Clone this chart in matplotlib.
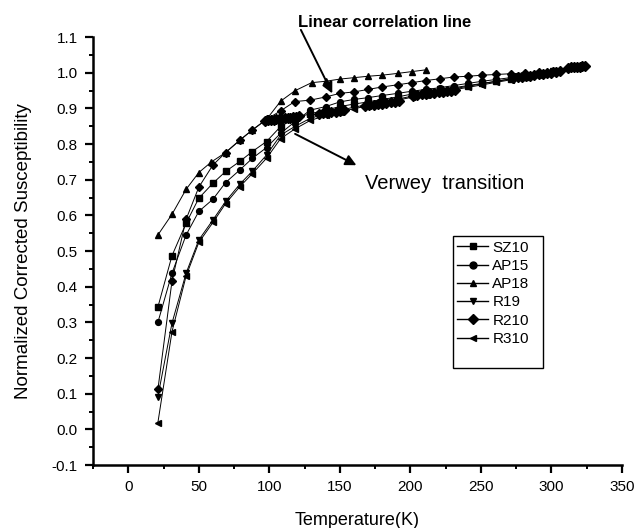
import matplotlib
matplotlib.use("Agg")
import matplotlib.pyplot as plt
from matplotlib.ticker import MultipleLocator
from matplotlib.lines import Line2D
from matplotlib.patches import Rectangle

plt.rcParams['font.family'] = ['Liberation Sans', 'DejaVu Sans']

# ---- data ----
T_low = [21, 31, 41, 50, 60, 69, 79, 88, 98, 108, 118]
T_high = [129, 140, 150, 160, 170, 180, 191, 201, 211, 221, 231, 241, 251, 261, 271, 281, 291, 301]

sz10_low = [0.343, 0.487, 0.578, 0.648, 0.690, 0.723, 0.751, 0.779, 0.807, 0.849, 0.872]
sz10_high = [0.885, 0.895, 0.905, 0.912, 0.918, 0.925, 0.932, 0.940, 0.947, 0.953, 0.958,
             0.964, 0.970, 0.976, 0.982, 0.988, 0.995, 1.003]

ap15_low = [0.300, 0.438, 0.545, 0.611, 0.645, 0.692, 0.727, 0.760, 0.790, 0.830, 0.862]
ap15_high = [0.895, 0.905, 0.918, 0.925, 0.930, 0.936, 0.942, 0.948, 0.953, 0.958, 0.964,
             0.970, 0.976, 0.981, 0.986, 0.992, 0.998, 1.005]

ap18_T = [21, 31, 41, 50, 59, 69, 79, 88, 98, 108, 118, 130, 140, 150, 160, 170, 180, 191, 201, 211]
ap18_v = [0.545, 0.603, 0.673, 0.720, 0.750, 0.776, 0.811, 0.839, 0.869, 0.920, 0.949, 0.972,
          0.976, 0.982, 0.986, 0.990, 0.993, 0.998, 1.003, 1.008]

r19_low = [0.092, 0.298, 0.438, 0.531, 0.587, 0.639, 0.687, 0.724, 0.769, 0.825, 0.849]
r19_high = [0.872, 0.885, 0.895, 0.903, 0.911, 0.918, 0.926, 0.934, 0.941, 0.948, 0.955,
            0.962, 0.969, 0.976, 0.983, 0.990, 0.997, 1.004]

r210_low = [0.112, 0.416, 0.589, 0.679, 0.741, 0.776, 0.810, 0.840, 0.869, 0.893, 0.919]
r210_high = [0.923, 0.932, 0.942, 0.946, 0.953, 0.960, 0.966, 0.972, 0.978, 0.983, 0.988,
             0.990, 0.993, 0.995, 0.997, 0.999, 1.001, 1.004]

r310_low = [0.019, 0.274, 0.430, 0.524, 0.580, 0.633, 0.680, 0.717, 0.760, 0.815, 0.842]
r310_high = [0.866, 0.880, 0.890, 0.899, 0.907, 0.915, 0.923, 0.931, 0.938, 0.945, 0.952,
             0.959, 0.966, 0.973, 0.980, 0.987, 0.994, 1.002]

# densely sampled segments (thick blobs in the reference)
dense1_T = [97, 99, 101, 103, 105, 107, 109, 111, 113, 115, 117, 119, 121]
dense1_v = [0.865, 0.866, 0.867, 0.868, 0.869, 0.870, 0.871, 0.872, 0.873, 0.874, 0.875, 0.876, 0.878]
dense2_T = [135, 138, 141, 144, 147, 150, 153]
dense2_v = [0.884, 0.886, 0.887, 0.889, 0.890, 0.892, 0.894]
dense3_T = [168, 171, 174, 177, 180, 183, 186, 189, 192]
dense3_v = [0.906, 0.908, 0.910, 0.912, 0.913, 0.915, 0.917, 0.918, 0.920]
dense4_T = [202, 205, 208, 211, 214, 217, 220, 223, 226, 229, 232]
dense4_v = [0.936, 0.938, 0.939, 0.941, 0.942, 0.944, 0.945, 0.947, 0.948, 0.950, 0.951]
dense5_T = [273, 276, 279, 282, 285, 288, 291, 294, 297, 300, 303, 306]
dense5_v = [0.986, 0.987, 0.989, 0.990, 0.992, 0.994, 0.995, 0.997, 0.999, 1.000, 1.002, 1.004]
dense6_T = [312, 314, 316, 318, 320, 322, 324]
dense6_v = [1.014, 1.015, 1.016, 1.017, 1.017, 1.018, 1.019]

labels = ['SZ10', 'AP15', 'AP18', 'R19', 'R210', 'R310']
markers = ['s', 'o', '^', 'v', 'D', '<']

fig = plt.figure(figsize=(6.38, 5.28), dpi=100)
ax = fig.add_axes([0.1458, 0.1193, 0.829, 0.8106])

series = [
    (T_low + T_high, sz10_low + sz10_high),
    (T_low + T_high, ap15_low + ap15_high),
    (ap18_T, ap18_v),
    (T_low + T_high, r19_low + r19_high),
    (T_low + T_high, r210_low + r210_high),
    (T_low + T_high, r310_low + r310_high),
]
msizes = [4, 4.2, 4.5, 4.5, 4, 4.5]
for (x, y), m, ms in zip(series, markers, msizes):
    ax.plot(x, y, color='black', lw=0.7, marker=m, markersize=ms)

for dT, dv in [(dense1_T, dense1_v), (dense2_T, dense2_v), (dense3_T, dense3_v),
               (dense4_T, dense4_v), (dense5_T, dense5_v), (dense6_T, dense6_v)]:
    ax.plot(dT, dv, color='black', lw=0.7, marker='D', markersize=4.8)

ax.set_xlim(-25, 350)
ax.set_ylim(-0.1, 1.1)
ax.xaxis.set_minor_locator(MultipleLocator(25))
ax.yaxis.set_minor_locator(MultipleLocator(0.05))
ax.set_xticks([0, 50, 100, 150, 200, 250, 300, 350])
ax.set_yticks([-0.1, 0.0, 0.1, 0.2, 0.3, 0.4, 0.5, 0.6, 0.7, 0.8, 0.9, 1.0, 1.1])
ax.set_yticklabels(['-0.1', '0.0', '0.1', '0.2', '0.3', '0.4', '0.5', '0.6', '0.7',
                    '0.8', '0.9', '1.0', '1.1'])
for s in ['top', 'right']:
    ax.spines[s].set_visible(False)
for s in ['left', 'bottom']:
    ax.spines[s].set_linewidth(1.8)
ax.tick_params(which='major', direction='out', length=6, width=1.6, labelsize=11, pad=5)
ax.tick_params(which='minor', direction='out', length=3, width=1.4)
ax.set_xlabel('Temperature(K)', fontsize=13, labelpad=13)
ax.set_ylabel('Normalized Corrected Susceptibility', fontsize=13.5, labelpad=14)

# annotations
ax.annotate('', xy=(145.5, 0.935), xytext=(121.5, 1.127), annotation_clip=False,
            arrowprops=dict(arrowstyle='-|>', lw=1.4, color='black', mutation_scale=16))
ax.text(120, 1.142, 'Linear correlation line', fontsize=12, fontweight='bold',
        ha='left', va='center', clip_on=False)
ax.annotate('', xy=(163.5, 0.737), xytext=(116.5, 0.832),
            arrowprops=dict(arrowstyle='-|>', lw=1.4, color='black', mutation_scale=16))
ax.text(168, 0.69, 'Verwey  transition', fontsize=14.5, ha='left', va='center')

# legend
handles = [Line2D([0], [0], color='black', lw=1.0, marker=m, markersize=5) for m in markers]
ax.add_patch(Rectangle((0.68, 0.227), 0.171, 0.308, transform=ax.transAxes,
                       fill=False, edgecolor='black', lw=1.0))
ax.legend(handles, labels, loc='upper left', bbox_to_anchor=(0.68, 0.535), frameon=False,
          fontsize=11, handlelength=2.0, handletextpad=0.3, labelspacing=0.28,
          borderpad=0.3, borderaxespad=0.0)

fig.savefig('out.png', dpi=100)
